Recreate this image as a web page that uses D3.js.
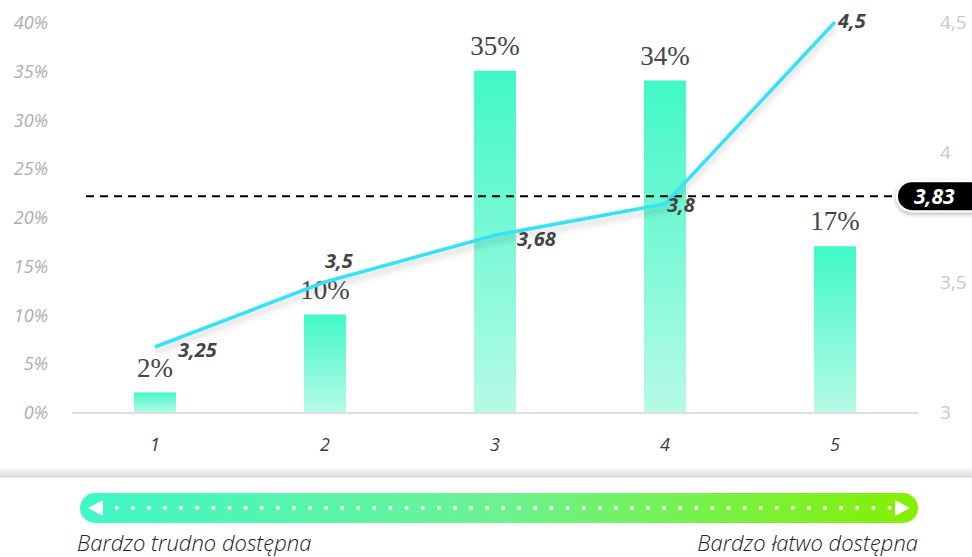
<!DOCTYPE html>
<html>
<head>
<meta charset="utf-8">
<script src="https://cdn.jsdelivr.net/npm/d3@7"></script>
<style>
  html, body { margin: 0; padding: 0; background: #fff; }
  svg { display: block; }
</style>
</head>
<body>
<div id="chart"></div>
<script>
// Answer scale 1–5
const categories = [1, 2, 3, 4, 5];
// Share of answers (%)
const shares = [2, 10, 35, 34, 17];
// Average rating per answer group
const averages = [3.25, 3.5, 3.68, 3.8, 4.5];
const averageLabels = ["3,25", "3,5", "3,68", "3,8", "4,5"];
// Overall mean
const meanValue = 3.83;
const meanLabel = "3,83";
// Axis ticks
const leftTicks = [0, 5, 10, 15, 20, 25, 30, 35, 40];
const rightTicks = [3, 3.5, 4, 4.5];
const rightTickLabels = ["3", "3,5", "4", "4,5"];
const scaleLabels = ["Bardzo trudno dostępna", "Bardzo łatwo dostępna"];

const W = 972, H = 557;
const svg = d3.select("#chart").append("svg").attr("width", W).attr("height", H);
const defs = svg.append("defs");

const x = d3.scalePoint().domain(categories).range([155, 835]);
const yL = d3.scaleLinear().domain([0, 40]).range([412, 22]);
const yR = d3.scaleLinear().domain([3, 4.5]).range([412, 22]);
const barW = 42;

// gradients
const gBar = defs.append("linearGradient").attr("id", "gBar").attr("x1", 0).attr("y1", 0).attr("x2", 0).attr("y2", 1);
gBar.append("stop").attr("offset", "0%").attr("stop-color", "#40f8c6");
gBar.append("stop").attr("offset", "100%").attr("stop-color", "#b6fae6");

const gScale = defs.append("linearGradient").attr("id", "gScale").attr("x1", 0).attr("y1", 0).attr("x2", 1).attr("y2", 0);
gScale.append("stop").attr("offset", "0%").attr("stop-color", "#40f8c8");
gScale.append("stop").attr("offset", "50%").attr("stop-color", "#6cf290");
gScale.append("stop").attr("offset", "100%").attr("stop-color", "#84f000");

const gSep = defs.append("linearGradient").attr("id", "gSep").attr("x1", 0).attr("y1", 0).attr("x2", 0).attr("y2", 1);
gSep.append("stop").attr("offset", "0%").attr("stop-color", "#ffffff");
gSep.append("stop").attr("offset", "100%").attr("stop-color", "#dcdcdc");

const shadow = defs.append("filter").attr("id", "lineShadow").attr("x", "-10%").attr("y", "-10%").attr("width", "120%").attr("height", "140%");
shadow.append("feDropShadow").attr("dx", 0).attr("dy", 5).attr("stdDeviation", 3).attr("flood-color", "#000").attr("flood-opacity", 0.18);

const pillShadow = defs.append("filter").attr("id", "pillShadow").attr("x", "-20%").attr("y", "-30%").attr("width", "140%").attr("height", "170%");
pillShadow.append("feDropShadow").attr("dx", 0).attr("dy", 2).attr("stdDeviation", 2).attr("flood-color", "#000").attr("flood-opacity", 0.3);

// left axis labels
svg.append("g").selectAll("text").data(leftTicks).join("text")
  .attr("x", 48).attr("y", d => yL(d) + 7)
  .attr("text-anchor", "end")
  .attr("font-family", "Open Sans, sans-serif").attr("font-style", "italic")
  .attr("font-size", 18).attr("fill", "#adadad")
  .text(d => d + "%");

// right axis labels
svg.append("g").selectAll("text").data(rightTicks).join("text")
  .attr("x", 940).attr("y", (d, i) => yR(d) + 7)
  .attr("font-family", "Open Sans, sans-serif")
  .attr("font-size", 19).attr("fill", "#c8c8c8")
  .text((d, i) => rightTickLabels[i]);

// baseline
svg.append("line").attr("x1", 72).attr("x2", 918).attr("y1", yL(0) + 1).attr("y2", yL(0) + 1)
  .attr("stroke", "#dedede").attr("stroke-width", 2);

// bars
svg.append("g").selectAll("rect").data(shares).join("rect")
  .attr("x", (d, i) => x(categories[i]) - barW / 2)
  .attr("y", d => yL(d))
  .attr("width", barW)
  .attr("height", d => yL(0) - yL(d))
  .attr("fill", "url(#gBar)");

// bar value labels
svg.append("g").selectAll("text").data(shares).join("text")
  .attr("x", (d, i) => x(categories[i]))
  .attr("y", d => yL(d) - 16)
  .attr("text-anchor", "middle")
  .attr("font-family", "Liberation Serif, DejaVu Serif, serif")
  .attr("font-size", 27).attr("fill", "#454545")
  .text(d => d + "%");

// x labels
svg.append("g").selectAll("text").data(categories).join("text")
  .attr("x", d => x(d)).attr("y", 451)
  .attr("text-anchor", "middle")
  .attr("font-family", "Open Sans, sans-serif").attr("font-style", "italic")
  .attr("font-size", 18).attr("fill", "#3a3a3a")
  .text(d => d);

// mean dashed line
svg.append("line")
  .attr("x1", 86).attr("x2", 900)
  .attr("y1", yR(meanValue)).attr("y2", yR(meanValue))
  .attr("stroke", "#000").attr("stroke-width", 2).attr("stroke-dasharray", "8,6");

// average line
const line = d3.line().x((d, i) => x(categories[i])).y(d => yR(d));
svg.append("path").datum(averages)
  .attr("d", line)
  .attr("fill", "none").attr("stroke", "#37e2f6").attr("stroke-width", 3.5)
  .attr("stroke-linejoin", "round")
  .attr("filter", "url(#lineShadow)");

// average labels
const labelOffsets = [[23, 10], [0, -14], [22, 11], [2, 8], [3, 6]];
svg.append("g").selectAll("text").data(averages).join("text")
  .attr("x", (d, i) => x(categories[i]) + labelOffsets[i][0])
  .attr("y", (d, i) => yR(d) + labelOffsets[i][1])
  .attr("font-family", "Open Sans, sans-serif").attr("font-style", "italic").attr("font-weight", 700)
  .attr("font-size", 20).attr("fill", "#444")
  .text((d, i) => averageLabels[i]);

// mean pill
const py = yR(meanValue);
svg.append("rect")
  .attr("x", 897).attr("y", py - 15).attr("width", 100).attr("height", 30).attr("rx", 15)
  .attr("fill", "#000").attr("stroke", "#fff").attr("stroke-width", 2)
  .attr("filter", "url(#pillShadow)");
svg.append("text")
  .attr("x", 914).attr("y", py + 8)
  .attr("font-family", "Open Sans, sans-serif").attr("font-style", "italic").attr("font-weight", 700)
  .attr("font-size", 21).attr("fill", "#fff")
  .text(meanLabel);

// separator with soft shadow
svg.append("rect").attr("x", 0).attr("y", 466).attr("width", W).attr("height", 11).attr("fill", "url(#gSep)");
svg.append("line").attr("x1", 0).attr("x2", W).attr("y1", 477).attr("y2", 477).attr("stroke", "#d6d6d6").attr("stroke-width", 1);

// gradient scale bar
const sb = { x0: 80, x1: 918, y: 493, h: 30 };
svg.append("rect").attr("x", sb.x0).attr("y", sb.y).attr("width", sb.x1 - sb.x0).attr("height", sb.h)
  .attr("rx", sb.h / 2).attr("fill", "url(#gScale)");
const cy = sb.y + sb.h / 2;
svg.append("path").attr("d", `M${88},${cy} L${103},${cy - 8} L${103},${cy + 8} Z`).attr("fill", "#fff");
svg.append("path").attr("d", `M${910},${cy} L${895},${cy - 8} L${895},${cy + 8} Z`).attr("fill", "#fff");
svg.append("g").selectAll("rect").data(d3.range(115, 890, 16.1)).join("rect")
  .attr("x", d => d).attr("y", cy - 2).attr("width", 3.5).attr("height", 3.5).attr("fill", "#fff");

// scale captions
svg.append("text").attr("x", 77).attr("y", 551)
  .attr("font-family", "Open Sans, sans-serif").attr("font-style", "italic").attr("font-weight", 300)
  .attr("font-size", 22).attr("fill", "#222")
  .text(scaleLabels[0]);
svg.append("text").attr("x", 918).attr("y", 551).attr("text-anchor", "end")
  .attr("font-family", "Open Sans, sans-serif").attr("font-style", "italic").attr("font-weight", 300)
  .attr("font-size", 22).attr("fill", "#222")
  .text(scaleLabels[1]);
</script>
</body>
</html>
